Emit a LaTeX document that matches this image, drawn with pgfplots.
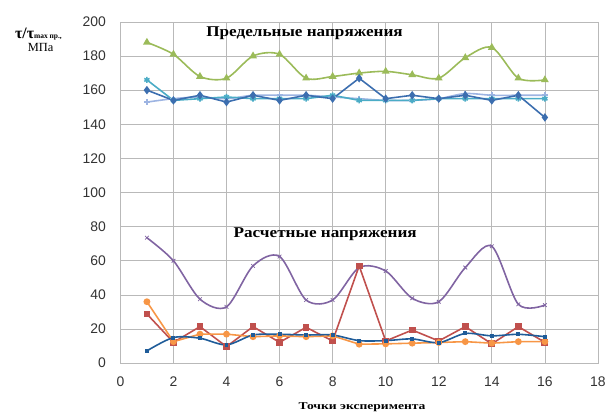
\documentclass[border=0pt]{standalone}
\usepackage{pgfplots}
\pgfplotsset{compat=1.18}
\usepackage{fontspec}
\setmainfont{Liberation Serif}
\newfontfamily\sans{Liberation Sans}
\newfontfamily\wideserif[FakeStretch=1.15]{Liberation Serif}
\newfontfamily\widerserif[FakeStretch=1.3]{Liberation Serif}
\usetikzlibrary{plotmarks}

\definecolor{cgreen}{HTML}{9BBB59}
\definecolor{cblue}{HTML}{3C6EAF}
\definecolor{cteal}{HTML}{4BACC6}
\definecolor{clav}{HTML}{9DB4E2}
\definecolor{cpurple}{HTML}{8064A2}
\definecolor{cred}{HTML}{C0504D}
\definecolor{corange}{HTML}{F79646}
\definecolor{cdblue}{HTML}{1F5C99}

\begin{document}
\begin{tikzpicture}
\path (-121pt,-49pt) rectangle (488pt,365pt);
\begin{axis}[
    scale only axis,
    width=480pt, height=343pt,
    at={(0,0)}, anchor=south west,
    xmin=0, xmax=18, ymin=0, ymax=200,
    xtick={0,2,...,18}, ytick={0,20,...,200},
    grid=major,
    major grid style={gray!55, line width=0.7pt},
    axis line style={gray!55, line width=0.7pt},
    tick style={draw=none},
    /pgf/number format/assume math mode=true,
    ticklabel style={font=\sans\fontsize{14}{16}\selectfont, text=black!80},
    xticklabel style={yshift=-10pt},
    yticklabel style={xshift=-11pt},
    clip=false,
    every axis plot/.append style={line width=1.6pt},
    mark size=2.6pt,
]
% upper: limit stresses
\addplot[cgreen, smooth, tension=0.5, mark=triangle*, mark size=3pt] coordinates {
(1,188)(2,181)(3,168)(4,167)(5,180)(6,181)(7,167)(8,168)(9,170)(10,171)(11,169)(12,167)(13,179)(14,185)(15,167)(16,166)};
\addplot[clav, smooth, tension=0.5, mark=+, mark size=3pt] coordinates {
(1,153)(2,155)(3,156)(4,155)(5,157)(6,157)(7,157)(8,156)(9,155)(10,154)(11,154)(12,155)(13,158)(14,157)(15,157)(16,157)};
\addplot[cteal, mark=asterisk, mark size=3pt] coordinates {
(1,166)(2,154)(3,155)(4,156)(5,155)(6,155)(7,155)(8,157)(9,154)(10,154)(11,154)(12,155)(13,155)(14,155)(15,155)(16,155)};
\addplot[cblue, mark=diamond*, mark size=3pt] coordinates {
(1,160)(2,154)(3,157)(4,153)(5,157)(6,154)(7,157)(8,155)(9,167)(10,155)(11,157)(12,155)(13,157)(14,154)(15,157)(16,144)};
% lower: calculated stresses
\addplot[cpurple, smooth, tension=0.5, mark=x, mark size=2.6pt, mark options={line width=0.8pt}] coordinates {
(1,73.5)(2,60)(3,37.5)(4,33)(5,57)(6,62.5)(7,37)(8,37)(9,56)(10,54)(11,38)(12,36)(13,56)(14,68.5)(15,34.5)(16,34)};
\addplot[cred, mark=square*, mark size=2.6pt] coordinates {
(1,28.8)(2,12.2)(3,21.4)(4,9.7)(5,21.4)(6,12.2)(7,21)(8,13)(9,57)(10,13)(11,19.4)(12,13)(13,21.4)(14,11.3)(15,21.4)(16,12.2)};
\addplot[corange, mark=*, mark size=2.6pt] coordinates {
(1,36)(2,12.6)(3,17)(4,17)(5,15.5)(6,16)(7,15.5)(8,16)(9,11.1)(10,11.3)(11,11.7)(12,12.1)(13,12.6)(14,11.7)(15,12.6)(16,12.6)};
\addplot[cdblue, smooth, tension=0.5, mark=square*, mark size=1.2pt] coordinates {
(1,7.2)(2,15)(3,14.6)(4,10.7)(5,16.5)(6,16.9)(7,16.5)(8,16.5)(9,13.2)(10,13.2)(11,14.2)(12,12)(13,17.4)(14,16)(15,16.9)(16,15.5)};

\node[font=\wideserif\bfseries\fontsize{15}{17}\selectfont] at (axis cs:6.94,193.6) {Предельные напряжения};
\node[font=\wideserif\bfseries\fontsize{15}{17}\selectfont] at (axis cs:7.72,75.8) {Расчетные напряжения};
\node[font=\widerserif\bfseries\fontsize{10.5}{12}\selectfont] at (rel axis cs:0.506,-0.128) {Точки эксперимента};
\node[anchor=west, inner sep=0pt] at (rel axis cs:-0.221,0.965) {\bfseries\fontsize{16}{17}\selectfont τ/τ\fontsize{7.5}{8}\selectfont max пр.,};
\node[font=\fontsize{12.5}{14}\selectfont] at (rel axis cs:-0.167,0.924) {МПа};
\end{axis}
\end{tikzpicture}
\end{document}
